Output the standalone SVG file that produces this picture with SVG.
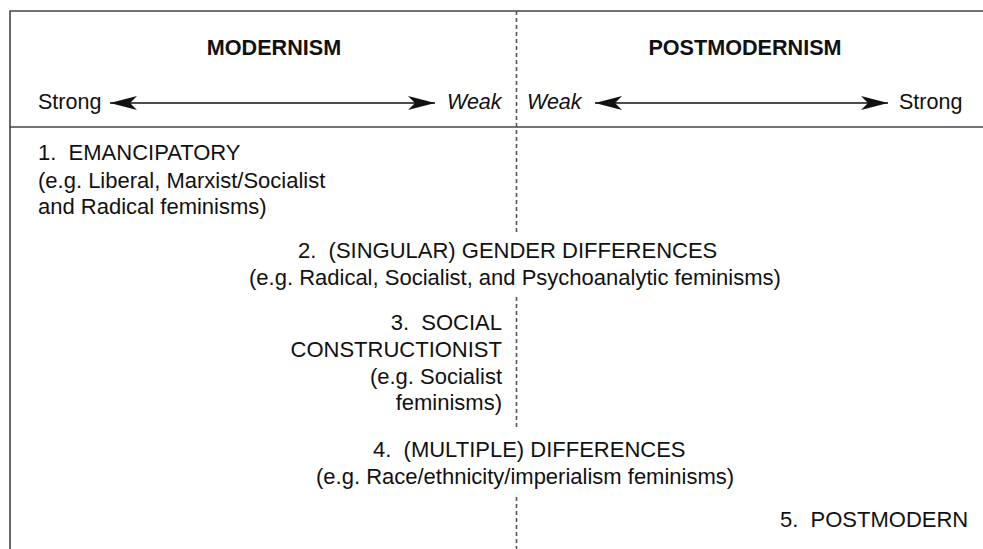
<svg xmlns="http://www.w3.org/2000/svg" width="983" height="549" viewBox="0 0 983 549">
  <defs>
    <style>
      text { font-family: "Liberation Sans", Arial, sans-serif; font-size: 22px; fill: #111; white-space: pre; }
      .head { font-weight: bold; font-size: 21.6px; text-anchor: middle; }
      .scale { font-size: 21.5px; }
      .weak { font-style: italic; }
      .end { text-anchor: end; }
      .frame { stroke: #444; stroke-width: 1.6; fill: none; }
      .divider { stroke: #555; stroke-width: 1.6; stroke-dasharray: 4 3; fill: none; }
      .axis { stroke: #111; stroke-width: 1.3; fill: none; marker-start: url(#head); marker-end: url(#head); }
    </style>
    <marker id="head" viewBox="0 0 27 14" refX="27" refY="7" markerWidth="27" markerHeight="14" markerUnits="userSpaceOnUse" orient="auto-start-reverse">
      <path d="M0,0 L27,7 L0,14 L7,7 Z" fill="#111"/>
    </marker>
  </defs>

  <!-- frame: top edge, left edge, header rule -->
  <g id="frame">
    <path class="frame" d="M10,549 V11 H983"/>
    <path class="frame" d="M10,127 H983"/>
  </g>

  <!-- column headings -->
  <g id="modernism">
    <text class="head" x="274" y="55">MODERNISM</text>
  </g>
  <g id="postmodernism">
    <text class="head" x="745" y="55">POSTMODERNISM</text>
  </g>

  <!-- strength scales -->
  <g id="scale-left">
    <text class="scale" x="38" y="109">Strong</text>
    <text class="scale weak" x="447" y="109">Weak</text>
  </g>
  <g id="scale-right">
    <text class="scale weak" x="527" y="109">Weak</text>
    <text class="scale" x="899" y="109">Strong</text>
  </g>

  <g id="connectors">
    <line class="axis" x1="110" y1="103" x2="435" y2="103"/>
    <line class="axis" x1="595" y1="103" x2="888" y2="103"/>
    <!-- dashed divider between the two columns, broken where labels span it -->
    <path class="divider" d="M516.5,11 V233 M516.5,297 V427 M516.5,497 V549"/>
  </g>

  <g id="emancipatory">
    <text x="38" y="160">1.  EMANCIPATORY</text>
    <text x="38" y="188">(e.g. Liberal, Marxist/Socialist</text>
    <text x="38" y="214">and Radical feminisms)</text>
  </g>

  <g id="gender-differences">
    <text x="298" y="258">2.  (SINGULAR) GENDER DIFFERENCES</text>
    <text x="249" y="285">(e.g. Radical, Socialist, and Psychoanalytic feminisms)</text>
  </g>

  <g id="social-constructionist">
    <text class="end" x="502" y="330">3.  SOCIAL</text>
    <text class="end" x="502" y="357">CONSTRUCTIONIST</text>
    <text class="end" x="502" y="384">(e.g. Socialist</text>
    <text class="end" x="502" y="410">feminisms)</text>
  </g>

  <g id="multiple-differences">
    <text x="373" y="457">4.  (MULTIPLE) DIFFERENCES</text>
    <text x="316" y="484">(e.g. Race/ethnicity/imperialism feminisms)</text>
  </g>

  <g id="postmodern">
    <text x="780" y="527">5.  POSTMODERN</text>
  </g>
</svg>
